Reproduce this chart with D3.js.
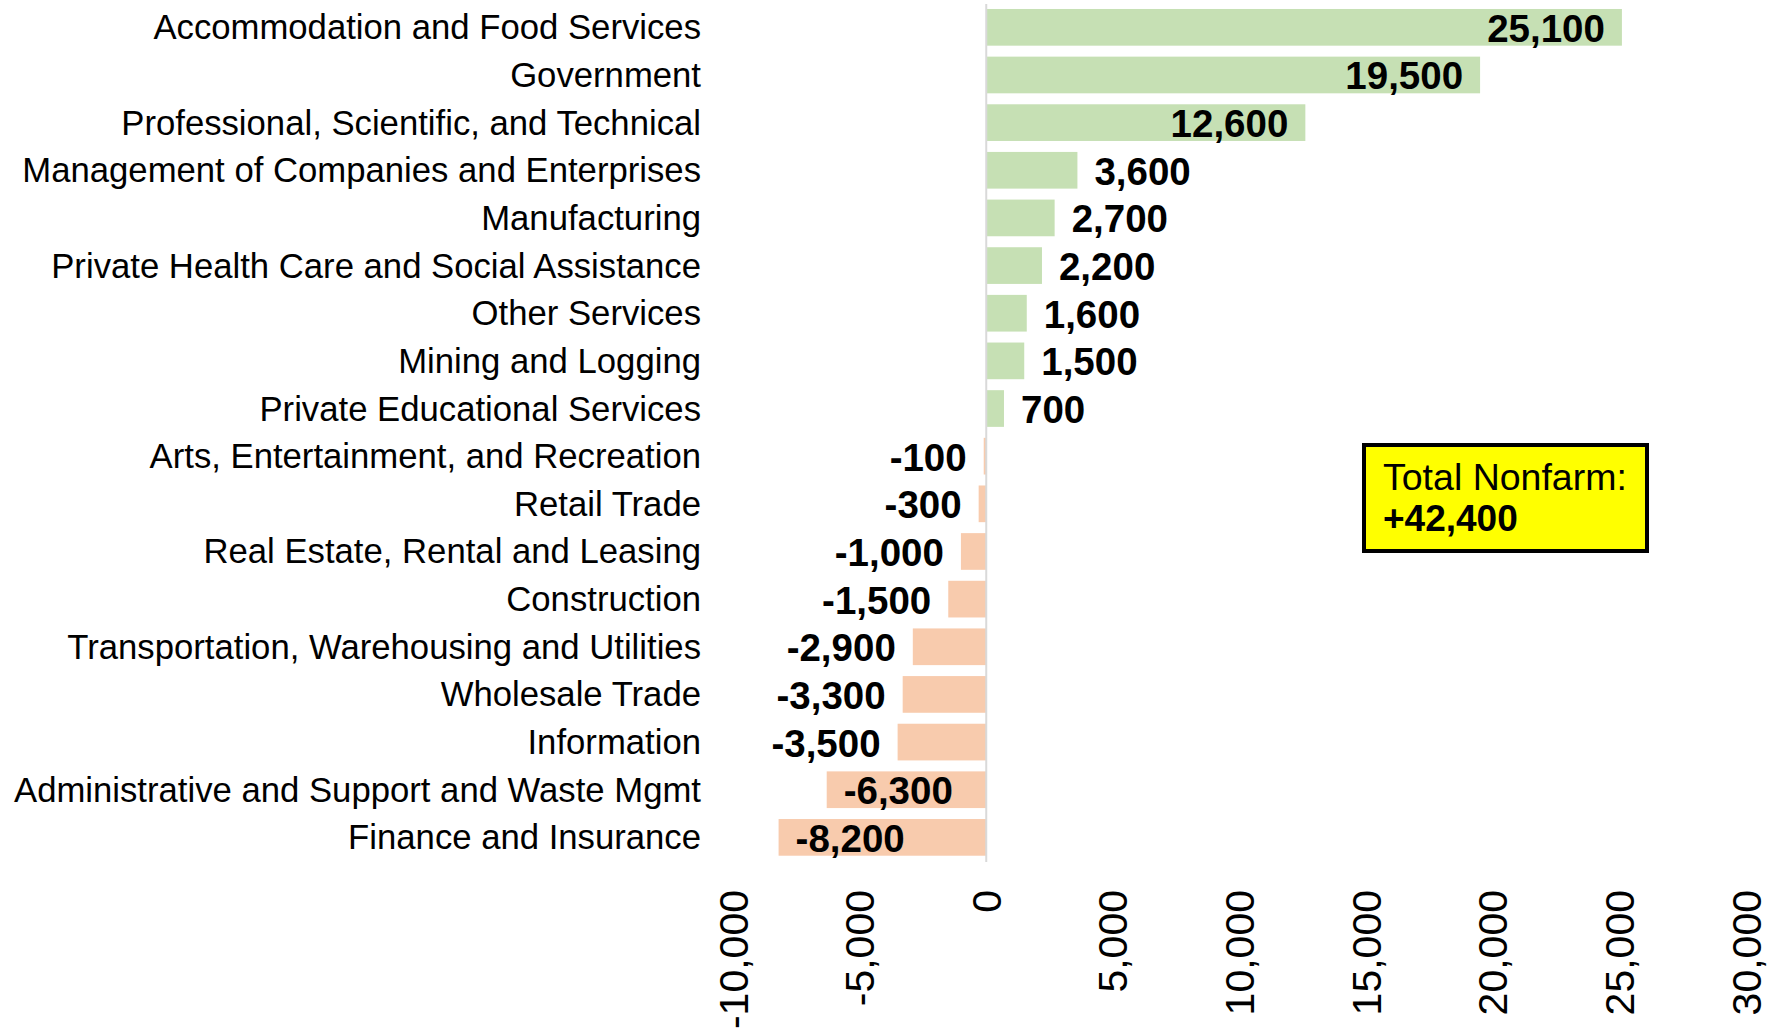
<!DOCTYPE html>
<html>
<head>
<meta charset="utf-8">
<script src="https://cdn.jsdelivr.net/npm/d3@7"></script>
<style>
  body { margin: 0; background: #fff; }
  svg { display: block; font-family: Arial, "Liberation Sans", sans-serif; }
</style>
</head>
<body>
<svg id="chart" width="1781" height="1029"></svg>
<script>
// Industries, sorted the same way as the picture (top to bottom)
const industries = [
    "Accommodation and Food Services",
    "Government",
    "Professional, Scientific, and Technical",
    "Management of Companies and Enterprises",
    "Manufacturing",
    "Private Health Care and Social Assistance",
    "Other Services",
    "Mining and Logging",
    "Private Educational Services",
    "Arts, Entertainment, and Recreation",
    "Retail Trade",
    "Real Estate, Rental and Leasing",
    "Construction",
    "Transportation, Warehousing and Utilities",
    "Wholesale Trade",
    "Information",
    "Administrative and Support and Waste Mgmt",
    "Finance and Insurance"
];
const jobChange = [25100, 19500, 12600, 3600, 2700, 2200, 1600, 1500, 700,
    -100, -300, -1000, -1500, -2900, -3300, -3500, -6300, -8200];
const xTicks = [-10000, -5000, 0, 5000, 10000, 15000, 20000, 25000, 30000];
const xDomain = [-10000, 30000];

(() => {
    const svg = d3.select("#chart");
    // plain hyphen for negatives, like the original
    const fmt = d3.formatLocale({ decimal: ".", thousands: ",", grouping: [3], currency: ["$", ""], minus: "-" }).format(",");

    const x = d3.scaleLinear().domain(xDomain).range([733, 1746]);
    const y = d3.scaleBand()
        .domain(industries)
        .range([3.5, 861.2])
        .paddingInner(0.23)
        .paddingOuter(0.115);

    const rows = industries.map((name, i) => ({ name, value: jobChange[i] }));

    // bars
    svg.append("g").selectAll("rect")
        .data(rows)
        .join("rect")
        .attr("x", d => x(Math.min(0, d.value)))
        .attr("y", d => y(d.name))
        .attr("width", d => Math.abs(x(d.value) - x(0)))
        .attr("height", y.bandwidth())
        .attr("fill", d => d.value >= 0 ? "#c6e0b4" : "#f8cbad");

    // zero line
    svg.append("line")
        .attr("x1", x(0)).attr("x2", x(0))
        .attr("y1", 4).attr("y2", 862)
        .attr("stroke", "#d9d9d9")
        .attr("stroke-width", 2);

    // category labels
    svg.append("g").selectAll("text")
        .data(rows)
        .join("text")
        .attr("x", 701)
        .attr("y", d => y(d.name) + y.bandwidth() / 2)
        .attr("text-anchor", "end")
        .attr("dominant-baseline", "central")
        .attr("font-size", 34.7)
        .attr("fill", "#000")
        .text(d => d.name);

    // value labels: inside the bar end when they fit, else just outside
    const gap = 17;
    const labels = svg.append("g").selectAll("text")
        .data(rows)
        .join("text")
        .attr("y", d => y(d.name) + y.bandwidth() / 2 + 1)
        .attr("dominant-baseline", "central")
        .attr("font-size", 38.5)
        .attr("font-weight", "bold")
        .attr("fill", "#000")
        .text(d => fmt(d.value));

    labels.each(function (d) {
        const w = this.getComputedTextLength();
        const barW = Math.abs(x(d.value) - x(0));
        const inside = barW > w + 2 * gap;
        const el = d3.select(this);
        if (d.value >= 0) {
            el.attr("x", inside ? x(d.value) - gap : x(d.value) + gap)
              .attr("text-anchor", inside ? "end" : "start");
        } else {
            el.attr("x", inside ? x(d.value) + gap : x(d.value) - gap)
              .attr("text-anchor", inside ? "start" : "end");
        }
    });

    // x axis tick labels, rotated
    const xAxis = d3.axisBottom(x)
        .tickValues(xTicks)
        .tickFormat(fmt)
        .tickSize(0);
    const gx = svg.append("g")
        .attr("transform", "translate(0,890)")
        .call(xAxis);
    gx.select(".domain").remove();
    gx.selectAll("text")
        .attr("transform", "rotate(-90)")
        .attr("x", 0)
        .attr("y", 0)
        .attr("dy", null)
        .attr("text-anchor", "end")
        .attr("dominant-baseline", "central")
        .attr("font-size", 41)
        .attr("font-family", "Arial, 'Liberation Sans', sans-serif")
        .attr("fill", "#000");

    // total nonfarm box
    const total = d3.sum(jobChange);
    const box = svg.append("g").attr("transform", "translate(1364,445)");
    box.append("rect")
        .attr("width", 283)
        .attr("height", 106)
        .attr("fill", "#ffff00")
        .attr("stroke", "#000")
        .attr("stroke-width", 4);
    box.append("text")
        .attr("x", 19)
        .attr("y", 45)
        .attr("font-size", 37.5)
        .text("Total Nonfarm:");
    box.append("text")
        .attr("x", 19)
        .attr("y", 86)
        .attr("font-size", 37)
        .attr("font-weight", "bold")
        .text((total >= 0 ? "+" : "") + fmt(total));
})();
</script>
</body>
</html>
